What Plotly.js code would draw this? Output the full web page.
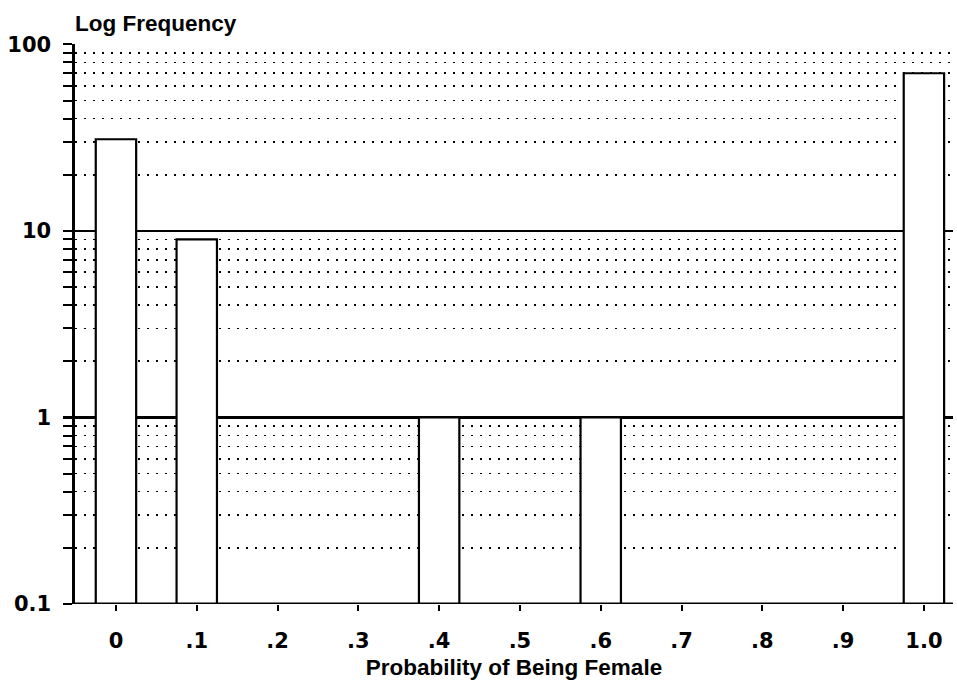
<!DOCTYPE html>
<html><head><meta charset="utf-8">
<script src="https://cdn.plot.ly/plotly-3.0.1.min.js"></script>
<style>html,body{margin:0;padding:0;background:#fff}#chart{width:957px;height:688px}</style>
</head><body><div id="chart"></div>
<script>
const probabilities = [0, 0.1, 0.4, 0.6, 1.0];
const frequencies = [31, 9, 1, 1, 70];
const xTickValues = [0, 0.1, 0.2, 0.3, 0.4, 0.5, 0.6, 0.7, 0.8, 0.9, 1.0];
const xTickLabels = ['0', '.1', '.2', '.3', '.4', '.5', '.6', '.7', '.8', '.9', '1.0'];
const yTickValues = [0.1, 1, 10, 100];
const yTickLabels = ['0.1', '1', '10', '100'];

const TICKFONT = 'DejaVu Sans, sans-serif';
const TITLEFONT = 'Liberation Sans, Arial, sans-serif';

const trace = {
  type: 'bar',
  x: probabilities,
  y: frequencies,
  width: 0.05,
  marker: {color: '#ffffff', line: {color: '#000000', width: 2.2}},
  hoverinfo: 'x+y'
};

const layout = {
  width: 957, height: 688,
  margin: {l: 75, r: 4, t: 44, b: 84},
  paper_bgcolor: '#ffffff', plot_bgcolor: '#ffffff',
  showlegend: false,
  font: {family: TICKFONT, color: '#000', size: 21},
  title: {
    text: 'Log Frequency',
    font: {family: TITLEFONT, size: 22.5, color: '#000', weight: 700},
    x: 0, xref: 'paper', xanchor: 'left',
    y: 0.967, yref: 'container', yanchor: 'middle'
  },
  xaxis: {
    range: [-0.0507, 1.036],
    tickmode: 'array', tickvals: xTickValues, ticktext: xTickLabels,
    ticks: 'outside', ticklen: 6, tickwidth: 2, tickcolor: '#000',
    ticklabelstandoff: 12,
    showgrid: false, zeroline: false,
    showline: false,
    tickfont: {family: TICKFONT, size: 21, color: '#000', weight: 700},
    title: {text: 'Probability of Being Female', font: {family: TITLEFONT, size: 22.5, color: '#000', weight: 700}, standoff: 7}
  },
  yaxis: {
    type: 'log',
    range: [-1, 2.002],
    tickmode: 'array', tickvals: yTickValues, ticktext: yTickLabels,
    ticks: 'outside', ticklen: 9, tickwidth: 2.2, tickcolor: '#000',
    ticklabelstandoff: 8,
    showgrid: true, gridcolor: '#000', gridwidth: 2.6,
    zeroline: false,
    showline: true, linecolor: '#000', linewidth: 2.6,
    tickfont: {family: TICKFONT, size: 21, color: '#000', weight: 700},
    minor: {
      dtick: 'D1',
      ticks: 'outside', ticklen: 9, tickwidth: 2, tickcolor: '#000',
      showgrid: true, gridcolor: '#000', gridwidth: 1.6, griddash: '1.6px,7.4px'
    }
  },
  shapes: [{
    type: 'line', xref: 'paper', yref: 'y',
    x0: 0, x1: 1, y0: 0.1, y1: 0.1,
    line: {color: '#000', width: 2.8}
  }]
};

Plotly.newPlot('chart', [trace], layout, {staticPlot: true, displayModeBar: false});
</script>
</body></html>
